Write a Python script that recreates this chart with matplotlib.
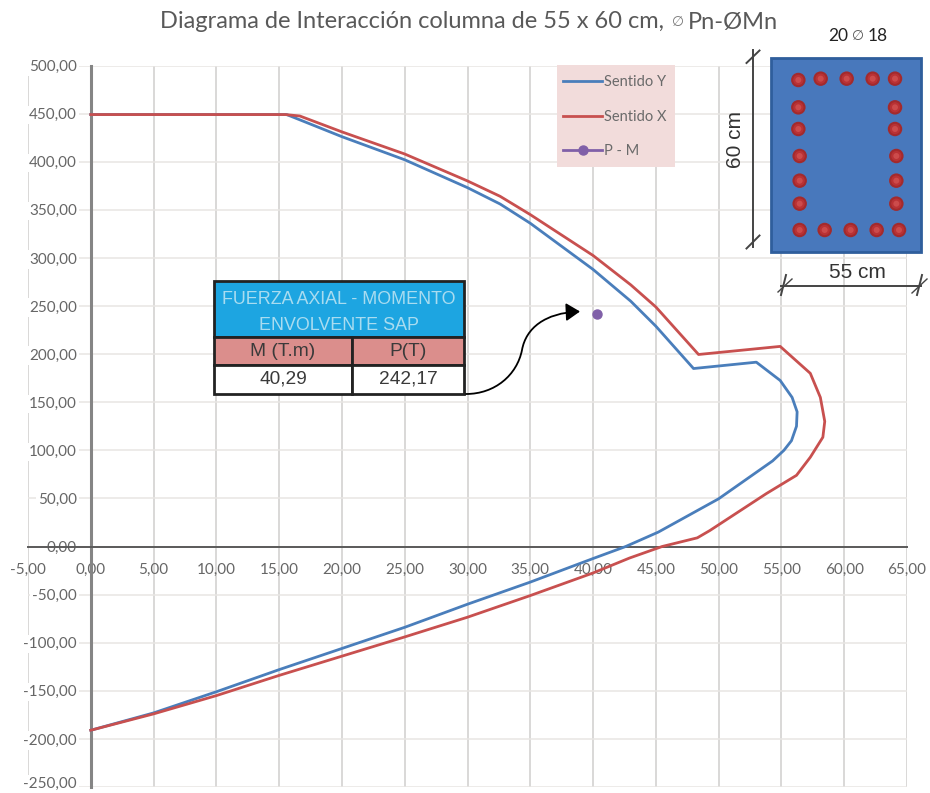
import matplotlib
matplotlib.use("Agg")
import matplotlib.pyplot as plt
from matplotlib.patches import Rectangle, Circle, FancyArrowPatch
from matplotlib.path import Path
from matplotlib.transforms import ScaledTranslation

FONT = ['Lato', 'DejaVu Sans']
plt.rcParams['font.family'] = FONT

blue_m = [0, 15.6, 20, 25, 30, 32.6, 35, 40, 43, 45, 48.0, 53.0, 54.9, 55.85, 56.25, 56.2, 55.8, 55.2, 54.3, 50, 45.2, 42.6, 40, 35, 30, 25, 20, 15, 10, 5, 0]
blue_p = [449, 449, 426, 402, 373, 356, 336, 288, 255, 229, 185, 191.6, 172.6, 155, 140, 125, 110, 100, 89, 49.6, 15, 0, -12.5, -37, -60, -84, -106, -128, -151, -173, -191]
red_m = [0, 15.5, 16.65, 20, 25, 30, 32.6, 35, 40, 43, 45, 48.4, 54.9, 57.3, 58.1, 58.45, 58.3, 57.3, 56.2, 53.8, 49.3, 48.3, 45.5, 42.9, 40, 35, 30, 25, 20, 15, 10, 5, 0]
red_p = [449, 449, 447.5, 431, 408, 380, 364, 345, 302.5, 272, 249, 199.6, 208, 180, 155, 130, 113.6, 92.8, 74, 55, 16.6, 9, 0, -12, -27.5, -51, -73.5, -94, -114, -134, -155, -174, -191]
point_m = [40.29]
point_p = [242.17]
x_ticks = list(range(-5, 70, 5))
y_ticks = list(range(-250, 550, 50))

W, H = 930, 793
fig = plt.figure(figsize=(W / 100, H / 100), dpi=100, facecolor='white')
L, R, T, B = 28, 907, 65.5, 787
ax = fig.add_axes([L / W, 1 - B / H, (R - L) / W, (B - T) / H])
ax.set_xlim(-5, 65)
ax.set_ylim(-250, 500)
ax.set_axisbelow(True)
ax.set_xticks(x_ticks)
ax.set_yticks(y_ticks)
fmt = lambda v: f"{v:.2f}".replace('.', ',')
ax.set_xticklabels([fmt(v) for v in x_ticks])
ax.set_yticklabels([fmt(v) for v in y_ticks])
ax.xaxis.grid(True, color='#D0CECD', lw=1.1)
ax.yaxis.grid(True, color='#E8E5E3', lw=1.1)
for s in ('top', 'right'):
    ax.spines[s].set_visible(False)
ax.spines['left'].set_position(('data', 0))
ax.spines['left'].set_color('#858585')
ax.spines['left'].set_linewidth(2.2)
ax.spines['bottom'].set_position(('data', 0))
ax.spines['bottom'].set_color('#5A5A5A')
ax.spines['bottom'].set_linewidth(1.4)
ax.tick_params(axis='x', length=0, pad=12, labelsize=11, labelcolor='#666666')
ax.tick_params(axis='y', length=0, pad=10, labelsize=11, labelcolor='#666666')
for v, t in zip(y_ticks, ax.get_yticklabels()):
    if v != 0:
        t.set_bbox(dict(facecolor='white', edgecolor='none', pad=1.5))
    if v == y_ticks[0]:
        # lifted a little so that it stays inside the picture
        t.set_transform(t.get_transform() + ScaledTranslation(0, 3.5 / 72, fig.dpi_scale_trans))
for v in ax.get_xticklabels() + ax.get_yticklabels():
    v.set_clip_on(False)

l1, = ax.plot(blue_m, blue_p, color='#4A7EBB', lw=2.0, label='Sentido Y', zorder=3)
l2, = ax.plot(red_m, red_p, color='#C8504F', lw=2.0, label='Sentido X', zorder=3)
l3, = ax.plot(point_m, point_p, color='#8060A8', lw=2.0, marker='o', ms=6.5, label='P - M', zorder=3)

# overlay in pixel units for the annotations pasted on the chart
ov = fig.add_axes([0, 0, 1, 1])
ov.set_xlim(0, W)
ov.set_ylim(H, 0)
ov.axis('off')

# title
ov.text(160, 22, 'Diagrama de Interacción columna de 55 x 60 cm,', fontsize=17, color='#595959', va='center', ha='left')
ov.text(672, 22, '∅', fontsize=10, color='#777777', va='center', ha='left')
ov.text(688, 22, 'Pn-ØMn', fontsize=17, color='#595959', va='center', ha='left')

# legend
ov.add_patch(Rectangle((557, 65), 118, 102, facecolor='#F2DCDB', edgecolor='none'))
ov.legend(handles=[l1, l2, l3], frameon=False, loc='upper left', bbox_to_anchor=(553, 65),
          bbox_transform=ov.transData, borderaxespad=0, borderpad=0.7, fontsize=10.5,
          handlelength=2.67, handletextpad=0.1, labelspacing=1.4, labelcolor='#6A6A6A')

# table
table_title = ['FUERZA AXIAL - MOMENTO', 'ENVOLVENTE SAP']
table_cols = ['M (T.m)', 'P(T)']
table_vals = ['40,29', '242,17']
tx0, tx1, txm = 214, 464, 352
ty = [281, 337, 365, 394]
ARIAL = 'Liberation Sans'
ov.add_patch(Rectangle((tx0, ty[0]), tx1 - tx0, ty[1] - ty[0], fc='#1DA5E1', ec='#222222', lw=2))
for x0, x1, c, v in zip((tx0, txm), (txm, tx1), table_cols, table_vals):
    ov.add_patch(Rectangle((x0, ty[1]), x1 - x0, ty[2] - ty[1], fc='#DB8E8C', ec='#222222', lw=2))
    ov.add_patch(Rectangle((x0, ty[2]), x1 - x0, ty[3] - ty[2], fc='white', ec='#222222', lw=2))
    ov.text((x0 + x1) / 2, (ty[1] + ty[2]) / 2, c, family=ARIAL, fontsize=13.8, color='#3A3A3A', ha='center', va='center')
    ov.text((x0 + x1) / 2, (ty[2] + ty[3]) / 2, v, family=ARIAL, fontsize=13.8, color='#3A3A3A', ha='center', va='center')
ov.text((tx0 + tx1) / 2, 299, table_title[0], family=ARIAL, fontsize=12.9, color='#A9DCF0', ha='center', va='center')
ov.text((tx0 + tx1) / 2, 325, table_title[1], family=ARIAL, fontsize=12.9, color='#A9DCF0', ha='center', va='center')

# curved arrow
arrow_path = Path([(466, 394), (495, 394), (517, 375), (522, 350), (526, 328), (545, 313), (580, 311.5)],
                  [Path.MOVETO, Path.CURVE4, Path.CURVE4, Path.CURVE4, Path.CURVE4, Path.CURVE4, Path.CURVE4])
ov.add_patch(FancyArrowPatch(path=arrow_path, arrowstyle='-|>,head_length=0.65,head_width=0.42',
                             mutation_scale=13, color='black', lw=1.3, shrinkA=0, shrinkB=0))

# column section
ov.add_patch(Rectangle((770.5, 57.5), 150, 194, fc='#4878BC', ec='#2F5E9C', lw=2))
zoom_xy = [(295, 180), (362, 176), (440, 176), (518, 176), (585, 176),
           (295, 262), (295, 327), (299, 408), (299, 482), (299, 551),
           (585, 262), (585, 327), (589, 408), (589, 482), (589, 551),
           (299, 630), (374, 630), (452, 630), (530, 630), (597, 630)]
for zx, zy in zoom_xy:
    cx, cy = 700 + zx / 3, 20 + zy / 3
    ov.add_patch(Circle((cx, cy), 6.2, fc='#B93235', ec='#A32A2C', lw=1.5))
    ov.add_patch(Circle((cx, cy), 3.0, fc='#CC4B4B', ec='none'))

dim = '#444444'
ov.plot([752.5, 752.5], [50, 247], color=dim, lw=1.4)
ov.plot([746.5, 759.5], [63, 50.5], color=dim, lw=1.4)
ov.plot([746.5, 759.5], [248.5, 235.5], color=dim, lw=1.4)
ov.plot([781, 921], [285.5, 285.5], color=dim, lw=1.4)
ov.plot([781, 786], [295, 275], color=dim, lw=1.4)
ov.plot([778, 792], [292, 279], color=dim, lw=1.0)
ov.plot([917, 922], [295, 275], color=dim, lw=1.4)
ov.plot([912, 927], [293, 279], color=dim, lw=1.0)
ov.text(735, 140, '60 cm', family=ARIAL, fontsize=15, color='#333333', rotation=90, ha='center', va='center')
ov.text(857, 272, '55 cm', family=ARIAL, fontsize=15, color='#333333', ha='center', va='center')
ov.text(838, 36, '20', fontsize=12.5, color='#222222', ha='center', va='center')
ov.text(858, 36, '∅', fontsize=10, color='#555555', ha='center', va='center')
ov.text(878, 36, '18', fontsize=12.5, color='#222222', ha='center', va='center')

fig.savefig('out.png', dpi=100)
